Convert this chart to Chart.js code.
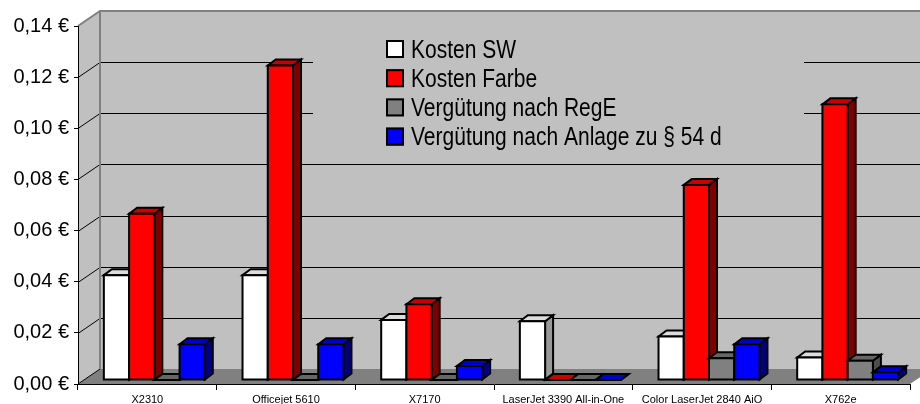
<!DOCTYPE html>
<html>
<head>
<meta charset="utf-8">
<script src="https://cdn.jsdelivr.net/npm/chart.js@4.4.1/dist/chart.umd.min.js"></script>
<style>
  body { margin: 0; background: #fff; }
</style>
</head>
<body>
<canvas id="myChart" width="920" height="404"></canvas>
<script>
// data
var printers = ['X2310', 'Officejet 5610', 'X7170', 'LaserJet 3390 All-in-One', 'Color LaserJet 2840 AiO', 'X762e'];
var kostenSW = [0.041, 0.041, 0.0235, 0.023, 0.017, 0.0088];
var kostenFarbe = [0.065, 0.123, 0.0296, 0, 0.0763, 0.1078];
var verguetungRegE = [0, 0, 0, 0, 0.0085, 0.0075];
var verguetungAnlage = [0.014, 0.014, 0.0055, 0, 0.014, 0.003];
var yTicks = { min: 0, max: 0.14, step: 0.02 };

var FONT = "'Liberation Sans', Arial, sans-serif";

// 3d look
var wallX = 22, wallY = -15;   // depth of the walls
var barX = 7, barY = -4;       // bars sit in the middle of the depth
var depX = 8, depY = -6;       // depth of a bar

var shades = [
  { front: '#ffffff', top: '#dddddd', side: '#999999' },
  { front: '#ff0000', top: '#cc0000', side: '#800000' },
  { front: '#808080', top: '#666666', side: '#4d4d4d' },
  { front: '#0000ff', top: '#0000cc', side: '#000080' }
];

function poly(ctx, pts, fill) {
  ctx.beginPath();
  ctx.moveTo(pts[0][0], pts[0][1]);
  for (var i = 1; i < pts.length; i++) ctx.lineTo(pts[i][0], pts[i][1]);
  ctx.closePath();
  ctx.fillStyle = fill;
  ctx.fill();
  ctx.stroke();
}

var walls = {
  id: 'walls',
  beforeDraw: function (chart) {
    var ctx = chart.ctx, a = chart.chartArea, y = chart.scales.y;
    var L = a.left, T = a.top, B = a.bottom, R = a.right;
    ctx.save();
    ctx.lineWidth = 0;
    ctx.strokeStyle = 'rgba(0,0,0,0)';
    // left wall, back wall, floor
    poly(ctx, [[L, T], [L + wallX, T + wallY], [L + wallX, B + wallY], [L, B]], '#c0c0c0');
    ctx.fillStyle = '#c0c0c0';
    ctx.fillRect(L + wallX, T + wallY, chart.width - L - wallX, B - T);
    poly(ctx, [[L, B], [L + wallX, B + wallY], [R + wallX, B + wallY], [R, B]], '#808080');

    // gridlines on the walls
    ctx.lineWidth = 1;
    ctx.strokeStyle = '#000';
    y.ticks.forEach(function (t) {
      if (t.value <= 0 || t.value >= yTicks.max) return;
      var py = Math.round(y.getPixelForValue(t.value)) + 0.5;
      ctx.beginPath();
      ctx.moveTo(L, py);
      ctx.lineTo(L + wallX, py + wallY);
      ctx.lineTo(chart.width, py + wallY);
      ctx.stroke();
    });
    ctx.beginPath();
    ctx.moveTo(L, B);
    ctx.lineTo(L + wallX, B + wallY);
    ctx.stroke();

    // grey edges of the walls
    ctx.lineWidth = 2;
    ctx.strokeStyle = '#808080';
    ctx.beginPath();
    ctx.moveTo(L, T);
    ctx.lineTo(L + wallX, T + wallY);
    ctx.lineTo(chart.width, T + wallY);
    ctx.moveTo(L + wallX, T + wallY);
    ctx.lineTo(L + wallX, B + wallY);
    ctx.stroke();

    // legend, drawn over the back wall
    ctx.fillStyle = '#c0c0c0';
    ctx.fillRect(313, 30, 491, 122);
    chart.data.datasets.forEach(function (ds, i) {
      var top = 40 + i * 29.2;
      ctx.fillStyle = ds.backgroundColor;
      ctx.fillRect(386, top, 18, 18);
      ctx.lineWidth = 2;
      ctx.strokeStyle = '#000';
      ctx.strokeRect(387, top + 1, 16, 16);
      ctx.save();
      ctx.translate(411, top + 17.5);
      ctx.scale(1, 1.2);
      ctx.fillStyle = '#000';
      ctx.font = '21px ' + FONT;
      ctx.textBaseline = 'alphabetic';
      ctx.fillText(ds.label, 0, 0);
      ctx.restore();
    });
    ctx.restore();
  }
};

var boxes = {
  id: 'boxes',
  beforeDatasetsDraw: function (chart) {
    chart.ctx.save();
    chart.ctx.translate(barX, barY);
  },
  afterDatasetsDraw: function (chart) {
    var ctx = chart.ctx;
    ctx.lineWidth = 2;
    ctx.strokeStyle = '#000';
    ctx.lineJoin = 'miter';
    for (var i = 0; i < printers.length; i++) {
      for (var d = 0; d < chart.data.datasets.length; d++) {
        var bar = chart.getDatasetMeta(d).data[i];
        var p = bar.getProps(['x', 'y', 'base', 'width'], true);
        var x0 = p.x - p.width / 2, x1 = p.x + p.width / 2;
        var c = shades[d];
        poly(ctx, [[x1, p.y], [x1 + depX, p.y + depY], [x1 + depX, p.base + depY], [x1, p.base]], c.side);
        poly(ctx, [[x0, p.y], [x0 + depX, p.y + depY], [x1 + depX, p.y + depY], [x1, p.y]], c.top);
        poly(ctx, [[x0, p.y], [x1, p.y], [x1, p.base], [x0, p.base]], c.front);
      }
    }
    ctx.restore();
  }
};

new Chart(document.getElementById('myChart').getContext('2d'), {
  type: 'bar',
  data: {
    labels: printers,
    datasets: [
      { label: 'Kosten SW', data: kostenSW, backgroundColor: '#ffffff' },
      { label: 'Kosten Farbe', data: kostenFarbe, backgroundColor: '#ff0000' },
      { label: 'Vergütung nach RegE', data: verguetungRegE, backgroundColor: '#808080' },
      { label: 'Vergütung nach Anlage zu § 54 d', data: verguetungAnlage, backgroundColor: '#0000ff' }
    ]
  },
  options: {
    responsive: false,
    animation: false,
    devicePixelRatio: 1,
    layout: { padding: { top: 26, right: 10, left: 0, bottom: 0 } },
    datasets: {
      bar: { categoryPercentage: 0.728, barPercentage: 1, borderColor: '#000', borderWidth: 0 }
    },
    plugins: {
      legend: { display: false },
      tooltip: { enabled: false }
    },
    scales: {
      x: {
        afterFit: function (s) { s.height = 20; },
        grid: { offset: true, drawOnChartArea: false, drawTicks: true, tickLength: 6, color: '#000' },
        border: { color: '#000', width: 1 },
        ticks: {
          autoSkip: false, maxRotation: 0, padding: 3,
          color: '#000', font: { family: FONT, size: 11 }
        }
      },
      y: {
        min: yTicks.min,
        max: yTicks.max,
        afterFit: function (s) { s.width = 78; },
        grid: { drawOnChartArea: false, drawTicks: true, tickLength: 4, color: '#000' },
        border: { color: '#000', width: 1 },
        ticks: {
          stepSize: yTicks.step, padding: 5,
          color: '#000', font: { family: FONT, size: 20 },
          callback: function (v) { return v.toFixed(2).replace('.', ',') + ' €'; }
        }
      }
    }
  },
  plugins: [walls, boxes]
});
</script>
</body>
</html>
